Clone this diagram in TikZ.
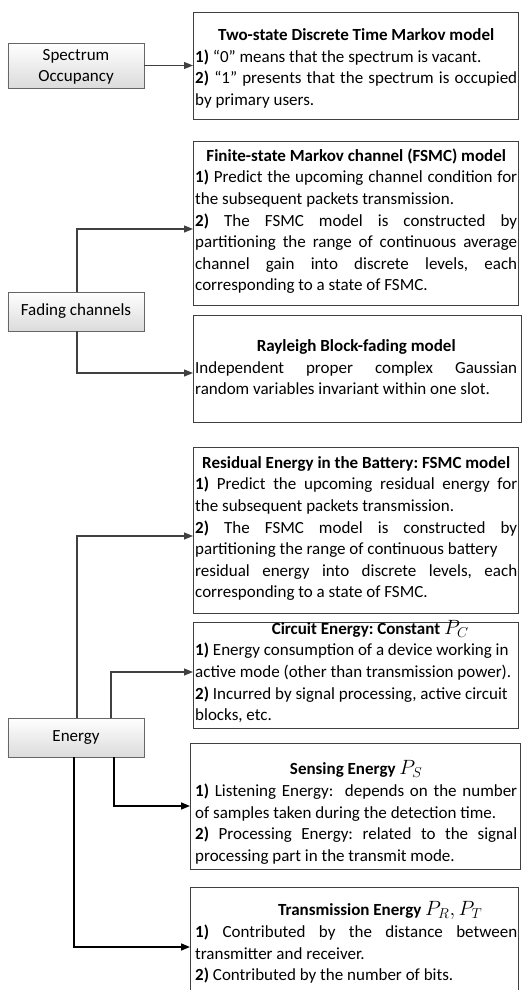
\documentclass[tikz,border=0pt]{standalone}
\usepackage{fontspec}
\setmainfont{Carlito}
\usetikzlibrary{arrows.meta}
\newcommand{\fs}{\fontsize{17bp}{21.6bp}\selectfont}
\newcommand{\tline}[1]{\centerline{\rule{0pt}{13bp}\textbf{#1}}}
\newcommand{\bx}[1]{\parbox[t]{322bp}{\fs\tolerance=10000\hyphenpenalty=10000\exhyphenpenalty=10000\frenchspacing #1}}
\newcommand{\mth}[1]{{\fontsize{19bp}{19bp}\selectfont$#1$}}
\begin{document}
\begin{tikzpicture}[x=1bp,y=-1bp,
  rbox/.style={draw=black!75, line width=1bp, inner sep=0pt, outer sep=0pt},
  lbox/.style={draw=black!60, line width=0.8bp, top color=white, bottom color=black!14,
    inner sep=0pt, outer sep=0pt, minimum width=136bp, align=center, font=\fs},
  txt/.style={anchor=north west, inner sep=0pt, font=\fs},
  arr/.style={draw=black!75, line width=1.1bp, -{Triangle[length=9bp,width=7bp]}},
  arrk/.style={draw=black, line width=1.5bp, -{Triangle[length=9bp,width=7bp]}}]
\useasboundingbox (0,0) rectangle (527,990);
\clip (0,0) rectangle (527,990);
\fill[white] (0,0) rectangle (527,990);

% left boxes
\node[lbox, minimum height=45bp] (spec) at (76,65.5) {\rule{0pt}{14bp}Spectrum\\Occupancy};
\node[lbox, minimum height=39bp] (fad) at (76,311.5) {Fading channels};
\node[lbox, minimum height=39bp] (en) at (76,737.5) {Energy};

% right boxes
\node[rbox, minimum width=325bp, minimum height=107bp] (two) at (355.5,65.5) {};
\node[rbox, minimum width=325bp, minimum height=164bp] (fsmc) at (355.5,223) {};
\node[rbox, minimum width=328bp, minimum height=107bp] (ray) at (357,368.5) {};
\node[rbox, minimum width=325bp, minimum height=166bp] (res) at (355.5,530) {};
\node[rbox, minimum width=325bp, minimum height=106bp] (cir) at (355.5,675) {};
\node[rbox, minimum width=330bp, minimum height=126bp] (sen) at (355,806) {};
\node[rbox, minimum width=328bp, minimum height=110bp] (tra) at (354,942) {};

% texts
\node[txt] (twot) at (195,27.5) {\bx{\tline{Two-state Discrete Time Markov model}
\textbf{1)} “0” means that the spectrum is vacant.\par
\textbf{2)} “1” presents that the spectrum is occupied\linebreak by primary users.}};

\node[txt] (fsmct) at (195,148) {\bx{\tline{Finite-state Markov channel (FSMC) model}
\textbf{1)} Predict the upcoming channel condition for\linebreak the subsequent packets transmission.\par
\textbf{2)} The FSMC model is constructed by\linebreak partitioning the range of continuous average\linebreak channel gain into discrete levels, each\linebreak corresponding to a state of FSMC.}};

\node[txt] (rayt) at (195,338.5) {\bx{\tline{Rayleigh Block-fading model}
Independent proper complex Gaussian\linebreak random variables invariant within one slot.}};

\node[txt] (rest) at (195,455) {\bx{\tline{Residual Energy in the Battery: FSMC model}
\textbf{1)} Predict the upcoming residual energy for\linebreak the subsequent packets transmission.\par
\textbf{2)} The FSMC model is constructed by\linebreak partitioning the range of continuous battery\newline residual energy into discrete levels, each\linebreak corresponding to a state of FSMC.}};

\node[txt] (cirt) at (195,620) {\bx{\centerline{\hspace{28bp}\rule{0pt}{13bp}\textbf{Circuit Energy: Constant} \mth{P_C}}
\raggedright
\textbf{1)} Energy consumption of a device working in\\ active mode (other than transmission power).\par
\textbf{2)} Incurred by signal processing, active circuit\\ blocks, etc.}};

\node[txt] (sent) at (195,760.5) {\bx{\centerline{\rule{0pt}{13bp}\textbf{Sensing Energy} \mth{P_S}}
\textbf{1)} Listening Energy:\ \ depends on the number\linebreak of samples taken during the detection time.\par
\textbf{2)} Processing Energy: related to the signal\linebreak processing part in the transmit mode.}};

\node[txt] (trat) at (195,901.5) {\bx{\centerline{\hspace{48bp}\rule{0pt}{13bp}\textbf{Transmission Energy} \mth{P_R, P_T}}
\textbf{1)} Contributed by the distance between\linebreak transmitter and receiver.\par
\textbf{2)} Contributed by the number of bits.}};

% connectors
\draw[arr] (spec.east) -- (spec.east -| two.west);
\draw[arr] ([xshift=69bp]fad.north west) |- ([yshift=-6bp]fsmc.west);
\draw[arr] ([xshift=69bp]fad.south west) |- ([yshift=-4.5bp]ray.west);
\draw[arr] ([xshift=69bp]en.north west) |- ([yshift=-6bp]res.west);
\draw[arr] ([xshift=103bp]en.north west) |- ([yshift=3bp]cir.west);
\draw[arrk] ([xshift=106bp]en.south west) |- ([yshift=0bp]sen.west);
\draw[arrk] ([xshift=66bp]en.south west) |- ([yshift=-5bp]tra.west);
\end{tikzpicture}
\end{document}
